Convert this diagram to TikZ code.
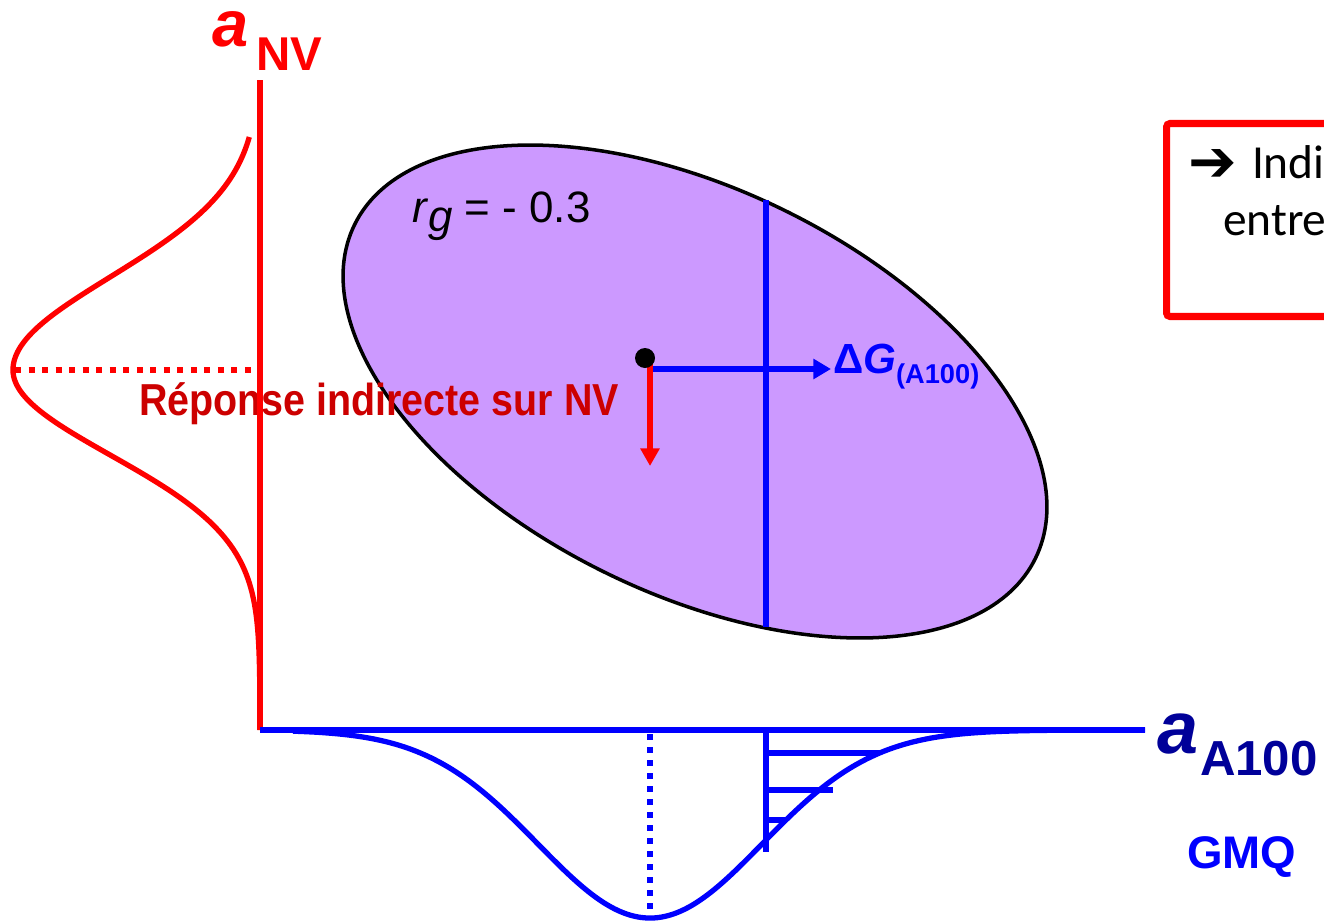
\documentclass[tikz,border=0pt]{standalone}
\usepackage{fontspec}
\setmainfont{Liberation Sans}
\newfontfamily\calfont{Carlito}
\newfontfamily\djv{DejaVu Sans}
\usetikzlibrary{arrows.meta}
\definecolor{ellfill}{RGB}{204,153,255}
\definecolor{darkred}{RGB}{204,0,0}
\definecolor{navy}{RGB}{0,0,153}
\definecolor{axblue}{RGB}{0,0,255}
\newcommand{\fsz}[1]{\fontsize{#1}{#1}\selectfont}
\begin{document}
\begin{tikzpicture}[x=0.02cm,y=-0.02cm,
  txt/.style={inner sep=0pt, outer sep=0pt, anchor=base west},
  redaxis/.style={draw=red, line width=3.4pt},
  blueaxis/.style={draw=axblue, line width=3.4pt},
  redcurve/.style={draw=red, line width=3pt, line join=round},
  bluecurve/.style={draw=axblue, line width=3pt, line join=round},
  reddots/.style={draw=red, line width=3.4pt, dash pattern=on 3.4pt off 4.3pt},
  bluedots/.style={draw=axblue, line width=3.2pt, dash pattern=on 3.4pt off 4pt},
  bluebar/.style={draw=axblue, line width=3.2pt},
  ellstyle/.style={draw=black, line width=2pt, fill=ellfill},
  bluearrow/.style={draw=axblue, line width=3.4pt, -{Triangle[length=10pt,width=11pt]}},
  redarrow/.style={draw=red, line width=3.2pt, -{Triangle[length=10pt,width=10.5pt]}},
  boxframe/.style={draw=red, line width=4pt, rounded corners=2pt}
]
\useasboundingbox (0,0) rectangle (1324,923);
\clip (0,0) rectangle (1324,923);

% coordinates
\coordinate (O) at (260,730);
\coordinate (ytop) at (260,80);
\coordinate (xend) at (1145,730);
\coordinate (ec) at (695,391.5);

% ellipse
\draw[ellstyle, rotate around={-26.1:(ec)}] (ec) ellipse [x radius=7.584cm, y radius=4.042cm];

% chord inside ellipse
\coordinate (chtop) at (766,200);
\coordinate (chbot) at (766,627);
\draw[bluebar] (chtop) -- (chbot);

% r_g label
\node[txt] (rg) at (412,222) {\fsz{25pt}\textit{r}\raisebox{-5.5pt}{\textit{g}} = - 0.3};

% dot and arrows
\node[txt, anchor=base west, text=axblue] (dG) at (833,373)
  {\fsz{24pt}\bfseries Δ\textit{G}\raisebox{-6.2pt}{\fsz{15.5pt}(A100)}};
\coordinate (hstart) at (652,369);
\coordinate (hend) at (831,369);
\draw[bluearrow] (hstart) -- (hend);
\coordinate (vstart) at (650,362);
\coordinate (vend) at (650,466);
\draw[redarrow] (vstart) -- (vend);
\node[circle, fill=black, minimum size=0.4cm, inner sep=0pt] (dot) at (645,358) {};

% left red distribution (slightly skewed)
\draw[redcurve] plot[domain=137:370, samples=90, smooth]
  ({260-247*exp(-0.5*((\x-370)/93)^2)}, \x)
  -- plot[domain=370:730, samples=120, smooth]
  ({260-247*exp(-0.5*((\x-370)/85)^2)}, \x);
\coordinate (rpeak) at (15,370);
\coordinate (raxis) at (258,370);
\draw[reddots] (rpeak) -- (raxis);

% indirect response label
\node[txt, text=darkred] (rep) at (139,415)
  {\scalebox{0.88}[1]{\fsz{25.5pt}\bfseries Réponse indirecte sur NV}};

% bottom blue distribution
\draw[bluecurve] plot[domain=293:1145, samples=160, smooth]
  (\x, {730+188*exp(-0.5*((\x-650)/112)^2)});
\coordinate (bmeanTop) at (650,734);
\coordinate (bmeanBot) at (650,914);
\draw[bluedots] (bmeanTop) -- (bmeanBot);

% truncation hatch
\coordinate (htop) at (766,730);
\coordinate (hbot) at (766,852);
\draw[bluebar] (htop) -- (hbot);
\coordinate (h1a) at (766,753); \coordinate (h1b) at (880,753);
\coordinate (h2a) at (766,790); \coordinate (h2b) at (833,790);
\coordinate (h3a) at (766,820); \coordinate (h3b) at (787,820);
\draw[bluebar] (h1a) -- (h1b);
\draw[bluebar] (h2a) -- (h2b);
\draw[bluebar] (h3a) -- (h3b);

% axes
\draw[redaxis] (O) -- (ytop);
\draw[blueaxis] (O) -- (xend);

% axis labels
\node[txt, text=red] (aNV) at (212,46) {\fsz{37pt}\bfseries\itshape a};
\node[txt, text=red] (NV) at (256,70) {\fsz{27pt}\bfseries NV};
\node[txt, text=navy] (aA) at (1157,753) {\fsz{42pt}\bfseries\itshape a};
\node[txt, text=navy] (A100) at (1200,775) {\fsz{28pt}\bfseries A100};
\node[txt, text=axblue] (GMQ) at (1187,868) {\fsz{26pt}\bfseries GMQ};

% right box (cut by the frame)
\coordinate (boxA) at (1166.5,123.5);
\coordinate (boxB) at (1420,316.5);
\draw[boxframe] (boxA) rectangle (boxB);
\node[txt] (arr) at (1188,181) {\djv\bfseries\fsz{33pt}➔};
\node[txt] (indi) at (1252,178) {\calfont\fsz{27pt}Indi};
\node[txt] (entre) at (1223,235) {\calfont\fsz{27pt}entre};
\end{tikzpicture}
\end{document}
